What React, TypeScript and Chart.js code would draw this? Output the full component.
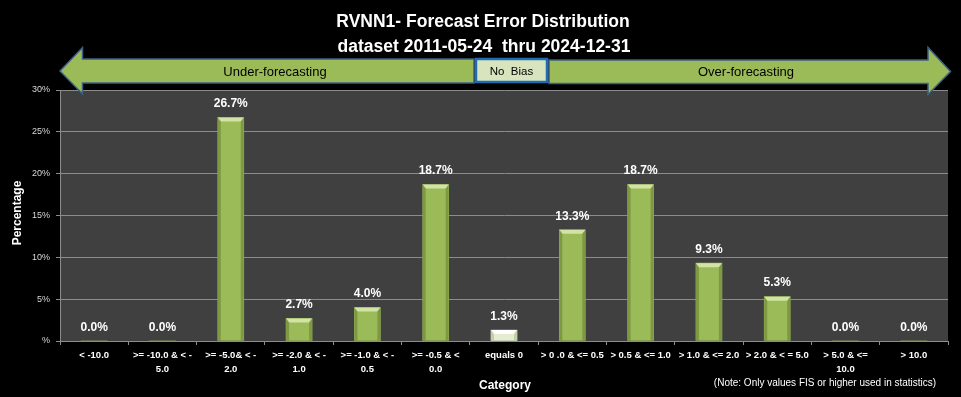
import { useEffect, useRef } from "react";
import { Chart, registerables } from "chart.js";

Chart.register(...registerables);

const categories: (string | string[])[] = [
  "< -10.0",
  [">= -10.0 & < -", "5.0"],
  [">= -5.0& < -", "2.0"],
  [">= -2.0 & < -", "1.0"],
  [">= -1.0 & < -", "0.5"],
  [">= -0.5 & <", "0.0"],
  "equals 0",
  "> 0 .0 & <= 0.5",
  "> 0.5 & <= 1.0",
  "> 1.0 & <= 2.0",
  "> 2.0 & < = 5.0",
  ["> 5.0 & <=", "10.0"],
  "> 10.0",
];

const percentages: number[] = [0, 0, 26.7, 2.7, 4.0, 18.7, 1.3, 13.3, 18.7, 9.3, 5.3, 0, 0];

const titleLines: string[] = [
  "RVNN1- Forecast Error Distribution",
  "dataset 2011-05-24  thru 2024-12-31",
];

const arrowLabels: string[] = ["Under-forecasting", "No  Bias", "Over-forecasting"];
const noteText = "(Note: Only values FIS or higher used in statistics)";
const xAxisTitle = "Category";
const yAxisTitle = "Percentage";

const FONT = "'Liberation Sans', Arial, sans-serif";
const GREEN = "#9bbb59";
const ZERO_BAR = "#e4ecd2";

const decorPlugin = {
  id: "decor",
  beforeDraw(chart: any) {
    const { ctx, chartArea, width, height } = chart;
    ctx.save();
    ctx.fillStyle = "#000000";
    ctx.fillRect(0, 0, width, height);
    ctx.fillStyle = "#404040";
    ctx.fillRect(chartArea.left, chartArea.top, chartArea.right - chartArea.left, chartArea.bottom - chartArea.top);
    ctx.restore();
  },
  afterDatasetsDraw(chart: any) {
    const { ctx } = chart;
    const meta = chart.getDatasetMeta(0);
    ctx.save();
    meta.data.forEach((bar: any, i: number) => {
      const { x, y, base, width } = bar.getProps(["x", "y", "base", "width"], true);
      const left = x - width / 2;
      const right = x + width / 2;
      const h = base - y;
      const zero = i === 6;
      if (h > 1) {
        const b = Math.min(4, h / 2);
        ctx.fillStyle = zero ? "#ffffff" : "#d2e4a4";
        ctx.beginPath();
        ctx.moveTo(left, y);
        ctx.lineTo(right, y);
        ctx.lineTo(right - 3, y + b);
        ctx.lineTo(left + 3, y + b);
        ctx.closePath();
        ctx.fill();
        ctx.fillStyle = zero ? "rgba(160,180,120,0.5)" : "rgba(90,110,40,0.45)";
        ctx.beginPath();
        ctx.moveTo(left, y);
        ctx.lineTo(left + 3, y + b);
        ctx.lineTo(left + 3, base);
        ctx.lineTo(left, base);
        ctx.closePath();
        ctx.fill();
        ctx.beginPath();
        ctx.moveTo(right, y);
        ctx.lineTo(right - 3, y + b);
        ctx.lineTo(right - 3, base);
        ctx.lineTo(right, base);
        ctx.closePath();
        ctx.fill();
      }
      ctx.fillStyle = "#ffffff";
      ctx.font = `bold 12px ${FONT}`;
      ctx.textAlign = "center";
      ctx.textBaseline = "middle";
      ctx.fillText(percentages[i].toFixed(1) + "%", x, y - 13.5);
    });
    ctx.restore();
  },
  afterDraw(chart: any) {
    const { ctx } = chart;
    ctx.save();
    ctx.fillStyle = "#ffffff";
    ctx.textAlign = "center";
    ctx.textBaseline = "middle";
    ctx.font = `bold 17.5px ${FONT}`;
    ctx.fillText(titleLines[0], 483, 22);
    ctx.fillText(titleLines[1], 484, 47);

    const bodyTop = 59;
    const bodyBot = 83;
    const headTop = 47.5;
    const headBot = 94;
    const tipY = 71;
    ctx.fillStyle = GREEN;
    ctx.strokeStyle = "#3d5f86";
    ctx.lineWidth = 1.5;
    ctx.lineJoin = "miter";
    ctx.beginPath();
    ctx.moveTo(60, tipY);
    ctx.lineTo(82.5, headTop);
    ctx.lineTo(82.5, bodyTop);
    ctx.lineTo(474, bodyTop);
    ctx.lineTo(474, bodyBot);
    ctx.lineTo(82.5, bodyBot);
    ctx.lineTo(82.5, headBot);
    ctx.closePath();
    ctx.fill();
    ctx.stroke();
    ctx.beginPath();
    ctx.moveTo(950.5, tipY + 0.5);
    ctx.lineTo(928, headTop);
    ctx.lineTo(928, bodyTop + 1);
    ctx.lineTo(549, bodyTop + 1);
    ctx.lineTo(549, bodyBot + 0.5);
    ctx.lineTo(928, bodyBot + 0.5);
    ctx.lineTo(928, headBot + 0.5);
    ctx.closePath();
    ctx.fill();
    ctx.stroke();
    ctx.fillStyle = "#d7e4bd";
    ctx.fillRect(476, 59, 71, 23);
    ctx.strokeStyle = "#1f6cb4";
    ctx.lineWidth = 2.5;
    ctx.strokeRect(476, 59, 71, 23);

    ctx.fillStyle = "#000000";
    ctx.font = `13px ${FONT}`;
    ctx.fillText(arrowLabels[0], 275, 72);
    ctx.fillText(arrowLabels[2], 746, 72);
    ctx.font = `11.5px ${FONT}`;
    ctx.fillText(arrowLabels[1], 511.5, 71.5);

    ctx.fillStyle = "#ffffff";
    ctx.font = `bold 12px ${FONT}`;
    ctx.fillText(xAxisTitle, 505, 386);
    ctx.save();
    ctx.translate(18, 213);
    ctx.rotate(-Math.PI / 2);
    ctx.fillText(yAxisTitle, 0, 0);
    ctx.restore();

    ctx.font = `10px ${FONT}`;
    ctx.fillText(noteText, 825, 383);
    ctx.restore();
  },
};

export default function App() {
  const ref = useRef<HTMLCanvasElement | null>(null);
  useEffect(() => {
    document.body.style.margin = "0";
    document.body.style.background = "#000";
    if (!ref.current) return;
    const chart = new Chart(ref.current, {
      type: "bar",
      data: {
        labels: categories,
        datasets: [
          {
            data: percentages,
            backgroundColor: percentages.map((_, i) => (i === 6 ? ZERO_BAR : GREEN)),
            borderWidth: 0,
            barThickness: 26,
          },
        ],
      },
      options: {
        responsive: false,
        animation: false,
        events: [],
        layout: { padding: { top: 90, right: 13, left: 0, bottom: 0 } },
        plugins: {
          legend: { display: false },
          tooltip: { enabled: false },
          title: { display: false },
        },
        scales: {
          x: {
            grid: {
              display: true,
              drawOnChartArea: false,
              drawTicks: true,
              tickLength: 4,
              color: "#8c8c8c",
              offset: true,
            },
            border: { display: true, color: "#8c8c8c" },
            ticks: {
              color: "#ffffff",
              font: { family: FONT, size: 9.5, weight: "bold", lineHeight: 1.4 },
              maxRotation: 0,
              minRotation: 0,
              autoSkip: false,
              padding: 4,
            },
            afterFit: (s: any) => {
              s.height = 56;
            },
          },
          y: {
            min: 0,
            max: 30,
            ticks: {
              stepSize: 5,
              color: "#d9d9d9",
              font: { family: FONT, size: 9 },
              padding: 6,
              callback: (v: any) => (Number(v) === 0 ? "%" : v + "%"),
            },
            grid: { color: "#8c8c8c", tickLength: 4, drawTicks: true },
            border: { display: true, color: "#8c8c8c" },
            afterFit: (s: any) => {
              s.width = 60;
            },
          },
        },
      },
      plugins: [decorPlugin],
    } as any);
    return () => chart.destroy();
  }, []);
  return <canvas ref={ref} width={961} height={397} style={{ display: "block" }} />;
}
